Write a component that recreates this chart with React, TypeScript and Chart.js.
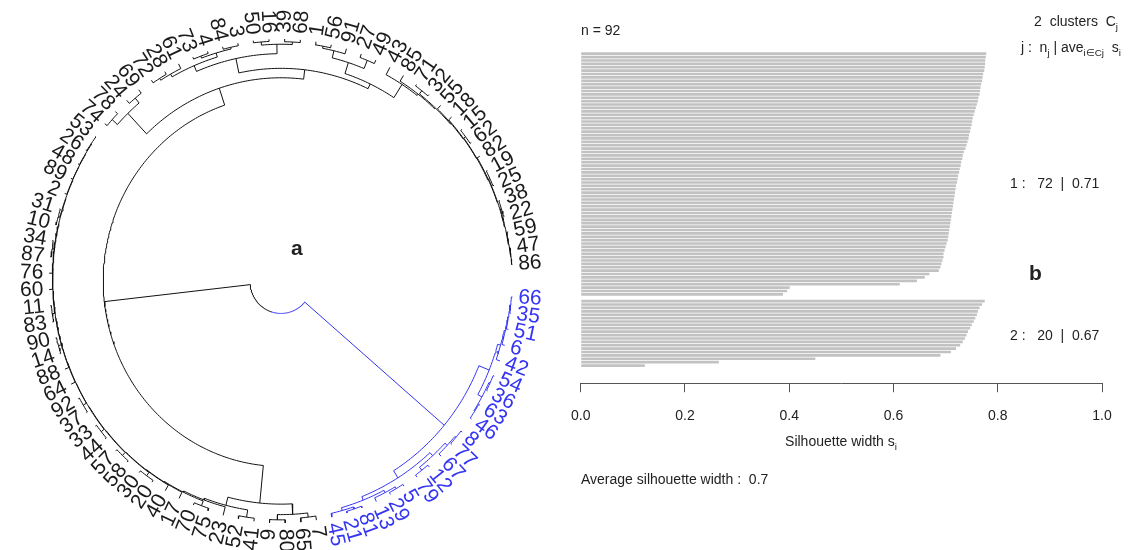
import React, { useEffect, useRef } from "react";
import { Chart, registerables } from "chart.js";
Chart.register(...registerables);

// ---------------- data ----------------
// dendrogram pieces (Newick-like: "(a,b)height"); leaves run clockwise from the right-hand gap
const blueGroupA = "(((((66,35)0.6,51)1,6)1.4,42)2,((54,36)0.6,(63,46)0.8)1.2)3.5";
const blueGroupB = "((((8,77)0.8,67)1.5,(12,79)1.2)3,(((5,29)1,13)2,((81,21)0.8,45)1.8)3.2)5";
const blackBottomPair = "((7,65)2,(80,9)1.5)4";
// long chain along the left side (clockwise order) and the height of each successive merge
const leftChainItems = ["(41,52)1.5", "23", "(75,70)1.2", "17", "40", "(20,30)1", "(58,57)0.8", "(44,33)0.7",
  "(37,92)0.6", "64", "88", "(14,90)0.5", "(83,11)0.6", "60", "76", "(87,34)0.5", "(10,31)0.4", "2", "89", "48", "(26,53)0.5"];
const leftChainHeights = [5.0, 4.2, 3.6, 3.3, 3.1, 2.9, 2.7, 2.5, 2.4, 2.2, 2.1, 2.0, 1.9, 1.7, 1.6, 1.5, 1.3, 1.1, 1.0, 0.8];
const blackUpperLeft = "((74,78)1.5,(24,69)2)5";
const blackTop = "((((72,28)1.5,61)2.5,((73,4)1,(84,3)1.2)2)4,((50,16)1,(39,68)1.3)2.5)7";
const blackTopRight = "(((1,56)1.5,91)2.5,(27,49)1.8)6";
// chain along the right side
const rightChainItems = ["43", "85", "(71,32)0.8", "55", "18", "(15,62)0.7", "82", "(19,25)0.6", "(38,22)0.5", "59", "(47,86)0.4"];
const rightChainHeights = [4.0, 3.2, 2.7, 2.3, 2.0, 1.8, 1.5, 1.3, 1.0, 0.7];
const mergeHeights = { blue: 9, bottom: 9, right: 11.5, top: 14, upper: 18.5, black: 27, root: 100 };

// silhouette widths (sorted within cluster)
const cluster1Widths = [
  0.778, 0.777, 0.776, 0.776, 0.775, 0.774, 0.772, 0.771, 0.770, 0.768,
  0.767, 0.766, 0.765, 0.763, 0.762, 0.760, 0.758, 0.756, 0.754, 0.752,
  0.751, 0.750, 0.748, 0.747, 0.745, 0.744, 0.742, 0.740, 0.738, 0.735,
  0.733, 0.732, 0.730, 0.729, 0.727, 0.726, 0.724, 0.723, 0.722, 0.720,
  0.719, 0.718, 0.717, 0.716, 0.715, 0.714, 0.713, 0.712, 0.711, 0.710,
  0.709, 0.708, 0.707, 0.706, 0.705, 0.704, 0.702, 0.700, 0.698, 0.696,
  0.696, 0.694, 0.692, 0.690, 0.687, 0.669, 0.660, 0.645, 0.612, 0.401,
  0.396, 0.388,
];
const cluster2Widths = [
  0.775, 0.770, 0.765, 0.762, 0.760, 0.757, 0.754, 0.750, 0.747, 0.743,
  0.740, 0.737, 0.733, 0.728, 0.720, 0.710, 0.690, 0.450, 0.265, 0.123,
];
const xTickValues = [0, 0.2, 0.4, 0.6, 0.8, 1.0];
const clusterSummary = [
  { j: 1, n: 72, ave: "0.71" },
  { j: 2, n: 20, ave: "0.67" },
];
const averageWidth = "0.7";

// ---------------- styling / layout ----------------
const BLUE = "#3434f4";
const FONT = "Arial, 'Liberation Sans', sans-serif";
const D_W = 565, D_H = 550, D_CX = 281, D_CY = 281, D_SX = 232, D_SY = 242;
const ROOT_R = 0.134;
const LABEL_R = 1.025;
const START_DEG = 3.8;
const S_LEFT = 555, S_W = 574;

type TNode = { label?: string; h: number; children: TNode[]; angle: number; blue: boolean };

function parseTree(src: string): TNode {
  const s = src.replace(/\s+/g, "");
  let i = 0;
  const num = () => {
    const st = i;
    while (i < s.length && /[0-9.]/.test(s[i])) i++;
    return s.slice(st, i);
  };
  const node = (): TNode => {
    if (s[i] === "(") {
      i++;
      const kids: TNode[] = [node()];
      while (s[i] === ",") {
        i++;
        kids.push(node());
      }
      i++;
      return { h: parseFloat(num()), children: kids, angle: 0, blue: false };
    }
    return { label: num(), h: 0, children: [], angle: 0, blue: false };
  };
  return node();
}

function chain(items: string[], heights: number[]) {
  let s = items[items.length - 1];
  for (let k = items.length - 2; k >= 0; k--) s = `(${items[k]},${s})${heights[k]}`;
  return s;
}

function buildTreeString() {
  const H = mergeHeights;
  const blue = `(${blueGroupA},${blueGroupB})${H.blue}`;
  const bottom = `(${blackBottomPair},${chain(leftChainItems, leftChainHeights)})${H.bottom}`;
  const right = `(${blackTopRight},${chain(rightChainItems, rightChainHeights)})${H.right}`;
  const top = `(${blackTop},${right})${H.top}`;
  const upper = `(${blackUpperLeft},${top})${H.upper}`;
  const black = `(${bottom},${upper})${H.black}`;
  return `(${blue},${black})${H.root}`;
}

function rOf(h: number, root: number) {
  return 1 - (h / root) * (1 - ROOT_R);
}

function DendroChart() {
  const ref = useRef<HTMLCanvasElement | null>(null);
  useEffect(() => {
    const tree = parseTree(buildTreeString());
    const leaves: TNode[] = [];
    const collect = (n: TNode) => {
      if (!n.children.length) leaves.push(n);
      else n.children.forEach(collect);
    };
    collect(tree);
    const step = 360 / (leaves.length + 1);
    leaves.forEach((l, k) => (l.angle = START_DEG + k * step));
    const setAngles = (n: TNode): number => {
      if (!n.children.length) return n.angle;
      const a = n.children.map(setAngles);
      n.angle = a.reduce((p, c) => p + c, 0) / a.length;
      return n.angle;
    };
    setAngles(tree);
    const markBlue = (n: TNode) => {
      n.blue = true;
      n.children.forEach(markBlue);
    };
    markBlue(tree.children[0]);

    const rootH = tree.h;
    const black: any[] = [];
    const blue: any[] = [];
    const pt = (r: number, deg: number) => {
      const t = (deg * Math.PI) / 180;
      return { x: r * Math.cos(t), y: r * Math.sin(t) };
    };
    const walk = (n: TNode) => {
      if (!n.children.length) return;
      const rn = rOf(n.h, rootH);
      n.children.forEach((c) => {
        const arr = c.blue ? blue : black;
        const rc = c.children.length ? rOf(c.h, rootH) : 1;
        const span = c.angle - n.angle;
        const steps = Math.max(1, Math.ceil(Math.abs(span) / 0.8));
        for (let s = 0; s <= steps; s++) arr.push(pt(rn, n.angle + (span * s) / steps));
        arr.push(pt(rc, c.angle));
        arr.push({ x: null, y: null });
        walk(c);
      });
    };
    walk(tree);

    const labelPlugin = {
      id: "leafLabels",
      afterDatasetsDraw(chart: any) {
        const { ctx } = chart;
        const xs = chart.scales.x, ys = chart.scales.y;
        const cx = xs.getPixelForValue(0), cy = ys.getPixelForValue(0);
        ctx.save();
        ctx.font = `21px ${FONT}`;
        ctx.textBaseline = "middle";
        leaves.forEach((l) => {
          const t = (l.angle * Math.PI) / 180;
          const px = xs.getPixelForValue(LABEL_R * Math.cos(t));
          const py = ys.getPixelForValue(LABEL_R * Math.sin(t));
          const a = Math.atan2(py - cy, px - cx);
          ctx.save();
          ctx.translate(px, py);
          if (Math.cos(a) >= -1e-6) {
            ctx.rotate(a);
            ctx.textAlign = "left";
          } else {
            ctx.rotate(a + Math.PI);
            ctx.textAlign = "right";
          }
          ctx.fillStyle = l.blue ? BLUE : "#1a1a1a";
          ctx.fillText(l.label, 0, 0);
          ctx.restore();
        });
        ctx.restore();
      },
    };

    const chart = new Chart(ref.current as HTMLCanvasElement, {
      type: "scatter",
      data: {
        datasets: [
          { data: black, showLine: true, borderColor: "#111", borderWidth: 1, pointRadius: 0, spanGaps: false } as any,
          { data: blue, showLine: true, borderColor: BLUE, borderWidth: 1, pointRadius: 0, spanGaps: false } as any,
        ],
      },
      options: {
        animation: false,
        responsive: false,
        events: [],
        layout: { padding: 0 },
        plugins: { legend: { display: false }, tooltip: { enabled: false } },
        scales: {
          x: { type: "linear", display: false, min: -D_CX / D_SX, max: (D_W - D_CX) / D_SX },
          y: { type: "linear", display: false, reverse: true, min: -D_CY / D_SY, max: (D_H - D_CY) / D_SY },
        },
      },
      plugins: [labelPlugin as any],
    });
    return () => chart.destroy();
  }, []);
  return <canvas ref={ref} width={D_W} height={D_H} style={{ width: D_W, height: D_H, display: "block" }} />;
}

function SilhouetteChart() {
  const ref = useRef<HTMLCanvasElement | null>(null);
  useEffect(() => {
    const pts: { x: number; y: number }[] = [];
    cluster1Widths.forEach((v, i) => pts.push({ x: v, y: i }));
    const off = cluster1Widths.length + 1;
    cluster2Widths.forEach((v, i) => pts.push({ x: v, y: off + i }));
    const chart = new Chart(ref.current as HTMLCanvasElement, {
      type: "bar",
      data: {
        datasets: [
          {
            data: pts as any,
            backgroundColor: "#c2c2c2",
            borderWidth: 0,
            barPercentage: 0.78,
            categoryPercentage: 1,
          },
        ],
      },
      options: {
        indexAxis: "y",
        animation: false,
        responsive: false,
        events: [],
        layout: { padding: { left: 6, right: 27, top: 52, bottom: 109 } },
        plugins: { legend: { display: false }, tooltip: { enabled: false } },
        scales: {
          x: {
            type: "linear",
            min: 0,
            max: 1,
            afterBuildTicks: (s: any) => {
              s.ticks = xTickValues.map((v) => ({ value: v }));
            },
            grid: { drawOnChartArea: false, drawTicks: true, tickLength: 9, color: "#555", lineWidth: 1 },
            border: { display: true, color: "#555", width: 1 },
            ticks: {
              padding: 16,
              color: "#222",
              font: { family: FONT, size: 14 },
              maxRotation: 0,
              callback: (v: any) => Number(v).toFixed(1),
            },
          },
          y: { type: "linear", display: false, reverse: true, offset: false, min: -0.5, max: 97.2 },
        },
      },
    });
    return () => chart.destroy();
  }, []);
  return <canvas ref={ref} width={S_W} height={550} style={{ width: S_W, height: 550, display: "block" }} />;
}

function Txt(props: { x: number; y: number; align?: "left" | "right" | "center"; size?: number; bold?: boolean; children: any }) {
  const { x, y, align = "left", size = 14, bold = false } = props;
  const tx = align === "left" ? "0" : align === "right" ? "-100%" : "-50%";
  return (
    <div
      style={{
        position: "absolute",
        left: x,
        top: y,
        transform: `translate(${tx}, -50%)`,
        fontFamily: FONT,
        fontSize: size,
        fontWeight: bold ? 700 : 400,
        color: "#222",
        whiteSpace: "pre",
        lineHeight: 1,
      }}
    >
      {props.children}
    </div>
  );
}

const subStyle: React.CSSProperties = { fontSize: "0.7em", verticalAlign: "-0.35em" };

export default function App() {
  return (
    <div style={{ position: "absolute", left: 0, top: 0, width: 1129, height: 550, background: "#fff", overflow: "hidden" }}>
      <div style={{ position: "absolute", left: 0, top: 0 }}>
        <DendroChart />
      </div>
      <div style={{ position: "absolute", left: S_LEFT, top: 0 }}>
        <SilhouetteChart />
      </div>
      <Txt x={291} y={247} size={21} bold>a</Txt>
      <Txt x={1029} y={272} size={21} bold>b</Txt>
      <Txt x={581} y={30}>{`n = ${cluster1Widths.length + cluster2Widths.length}`}</Txt>
      <Txt x={1118} y={23} align="right">
        {`${clusterSummary.length}  clusters  C`}<span style={subStyle}>j</span>
      </Txt>
      <Txt x={1121} y={49} align="right">
        {"j :  n"}<span style={subStyle}>j</span>{" | ave"}<span style={subStyle}>{"i\u2208Cj"}</span>{"  s"}<span style={subStyle}>i</span>
      </Txt>
      <Txt x={1010} y={183}>{`${clusterSummary[0].j} :   ${clusterSummary[0].n}  |  ${clusterSummary[0].ave}`}</Txt>
      <Txt x={1010} y={335}>{`${clusterSummary[1].j} :   ${clusterSummary[1].n}  |  ${clusterSummary[1].ave}`}</Txt>
      <Txt x={841} y={443} align="center">
        {"Silhouette width s"}<span style={subStyle}>i</span>
      </Txt>
      <Txt x={581} y={479}>{`Average silhouette width :  ${averageWidth}`}</Txt>
    </div>
  );
}
